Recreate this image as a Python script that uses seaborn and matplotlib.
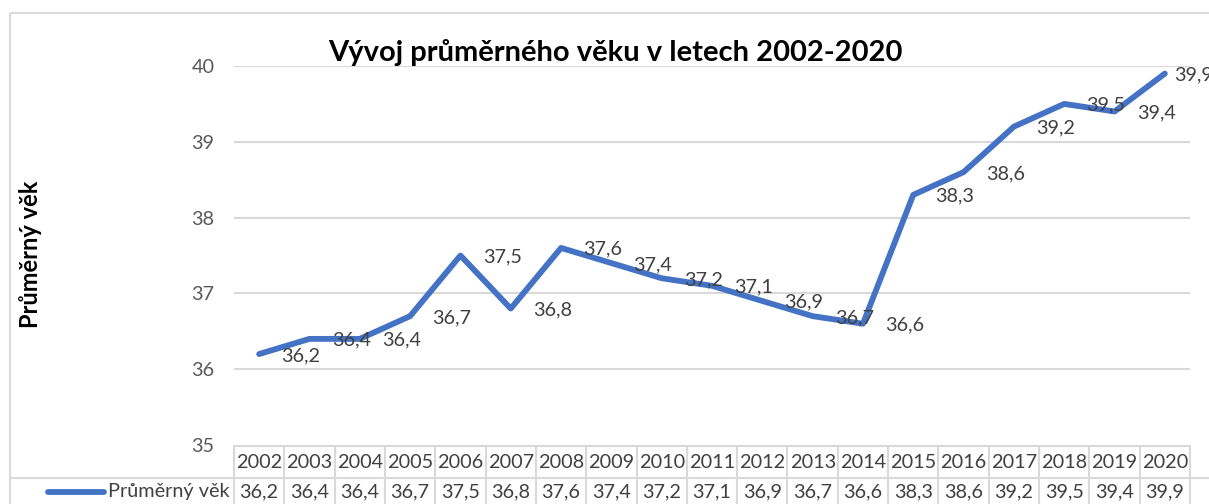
# Vývoj průměrného věku 2002-2020 - line chart with Excel style data table

import numpy as np
import pandas as pd
import matplotlib.pyplot as plt
import matplotlib.transforms as mtransforms
from matplotlib.patches import Rectangle
import seaborn as sns

sns.set_theme(style="white")
plt.rcParams['font.family'] = ['Lato', 'DejaVu Sans']

years = [2002, 2003, 2004, 2005, 2006, 2007, 2008, 2009, 2010, 2011,
         2012, 2013, 2014, 2015, 2016, 2017, 2018, 2019, 2020]
avg_age = [36.2, 36.4, 36.4, 36.7, 37.5, 36.8, 37.6, 37.4, 37.2, 37.1,
           36.9, 36.7, 36.6, 38.3, 38.6, 39.2, 39.5, 39.4, 39.9]
series_name = "Průměrný věk"
title = "Vývoj průměrného věku v letech 2002-2020"
y_ticks = [35, 36, 37, 38, 39, 40]

df = pd.DataFrame({"idx": np.arange(len(years)), "rok": years, "vek": avg_age})

blue = "#4472C4"
grid_col = "#D9D9D9"
text_col = "#404040"
fs = 14.3

W, H = 1209, 504
fig = plt.figure(figsize=(W / 100, H / 100), dpi=100)

# overlay in pixel coordinates for frame / table
over = fig.add_axes([0, 0, 1, 1], zorder=0)
over.set_xlim(0, W)
over.set_ylim(H, 0)
over.axis("off")
over.add_patch(Rectangle((10, 13), W + 20, H + 20, fill=False,
                         edgecolor="#D9D9D9", lw=1.5))

ax = fig.add_axes([234 / W, 1 - 445 / H, (1190 - 234) / W, (445 - 66) / H],
                  zorder=1)
ax.patch.set_alpha(0)

sns.lineplot(data=df, x="idx", y="vek", ax=ax, color=blue, lw=4.2,
             solid_capstyle="round", solid_joinstyle="round")

ax.set_xlim(-0.5, len(years) - 0.5)
ax.set_ylim(35, 40)
ax.set_yticks(y_ticks)
ax.set_yticklabels([str(t) for t in y_ticks], fontsize=fs, color="#595959")
ax.set_xticks([])
ax.tick_params(axis="y", length=0, pad=14)
ax.set_xlabel("")
ax.set_ylabel("")
for s in ax.spines.values():
    s.set_visible(False)
for t in y_ticks[1:]:
    ax.axhline(t, color=grid_col, lw=1.5, zorder=0)

for i, v in enumerate(avg_age):
    # last label is pulled in so it stays inside the chart area (as Excel does)
    dx = 7 if i == len(avg_age) - 1 else 16
    ax.annotate(f"{v:.1f}".replace(".", ","), (i, v), xytext=(dx, -1),
                textcoords="offset points", ha="left", va="center",
                fontsize=fs, color=text_col, annotation_clip=False)

fig.text(615 / W, 1 - 53 / H, title, ha="center", va="center",
         fontsize=21, fontweight="bold", color="black")
fig.text(31 / W, 1 - 254 / H, series_name, rotation=90, ha="center",
         va="center", fontsize=17, fontweight="bold", color="black")

# data table under the plot
tr = mtransforms.blended_transform_factory(ax.transData, over.transData)
n = len(years)
y0, y1, y2 = 446, 478, 512
ax_left = ax.transData.transform((-0.5, 0))[0]
over.plot([-0.5, n - 0.5], [y0, y0], transform=tr, color=grid_col, lw=1.5)
over.plot([10, W], [y1, y1], color=grid_col, lw=1.5)
for k in range(n + 1):
    over.plot([k - 0.5, k - 0.5], [y0, y2], transform=tr, color=grid_col,
              lw=1.5)
for i, (yr, v) in enumerate(zip(years, avg_age)):
    over.text(i, (y0 + y1) / 2 + 1, str(yr), transform=tr, ha="center",
              va="center", fontsize=fs, color=text_col)
    over.text(i, (y1 + 504) / 2 + 1, f"{v:.1f}".replace(".", ","),
              transform=tr, ha="center", va="center", fontsize=fs,
              color=text_col)
over.plot([48, 104], [492, 492], color=blue, lw=4.2, solid_capstyle="round")
over.text(ax_left - 4, 492, series_name, ha="right", va="center",
          fontsize=fs, color=text_col)

fig.savefig("out.png", dpi=100)
